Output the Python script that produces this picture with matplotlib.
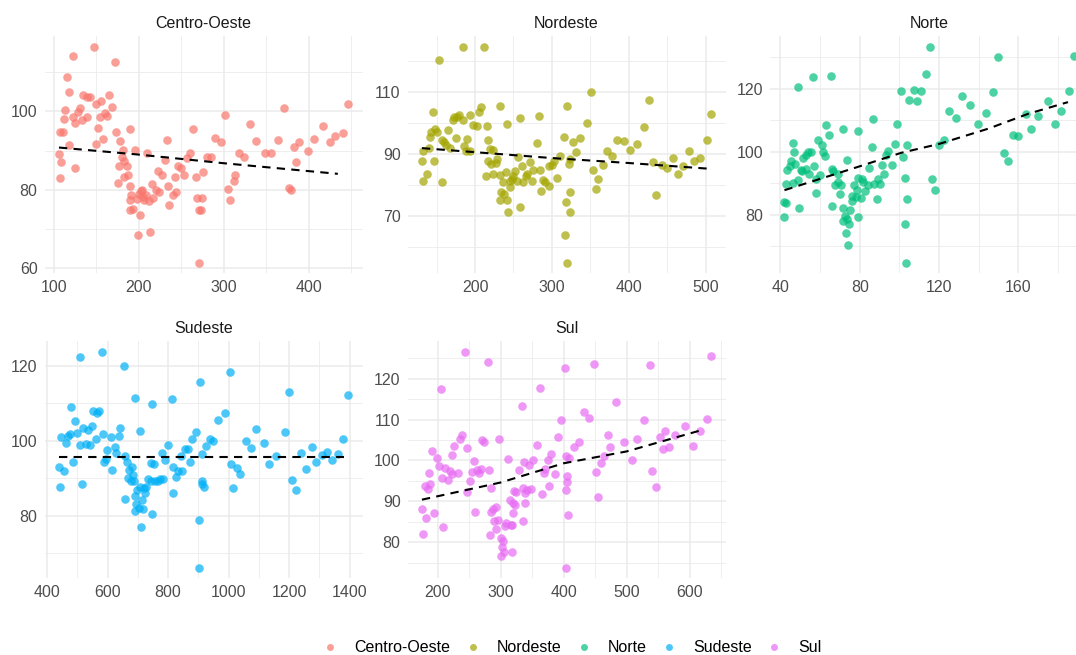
import numpy as np
import matplotlib
matplotlib.use("Agg")
import matplotlib.pyplot as plt
from matplotlib.lines import Line2D

plt.rcParams['font.family'] = ['Liberation Sans', 'DejaVu Sans']

# ---- data (x, y per region) ----
regions = ['Centro-Oeste', 'Nordeste', 'Norte', 'Sudeste', 'Sul']
colors = ['#F8766D', '#A3A500', '#00BF7D', '#00B0F6', '#E76BF3']

co_x = [123, 147, 172, 116, 118, 134, 139, 143, 149, 156, 165, 168, 113, 131, 128, 122, 112, 125, 133, 139,
        154, 160, 162, 107, 111, 152, 158, 173, 178, 118, 150, 106, 108, 107, 125, 189, 181, 180, 182, 177,
        186, 187, 183, 175, 190, 196, 210, 191, 190, 190, 193, 201, 199, 213, 203, 205, 208, 212, 215, 217,
        220, 224, 223, 227, 231, 233, 234, 236, 240, 244, 242, 246, 250, 253, 257, 260, 264, 267, 268, 271,
        273, 274, 275, 271, 280, 285, 290, 296, 301, 305, 307, 312, 313, 318, 324, 331, 338, 348, 355, 364,
        371, 376, 379, 383, 385, 388, 399, 406, 416, 425, 431, 440, 446, 200, 204, 206, 198]
co_y = [114.2, 116.4, 112.5, 108.9, 105, 104.2, 103.6, 103.8, 102, 102.7, 104.2, 101.1, 100.3, 100.8, 99.9, 98.6,
        98.1, 97, 97.7, 98.6, 98.6, 99.6, 98.9, 94.8, 94.8, 95.7, 93.1, 94.7, 92.4, 91.4, 91.8, 89.2, 87, 83,
        85.6, 95.6, 90.3, 88.5, 87.3, 86.2, 86.2, 83.9, 83.4, 81.7, 81.1, 90.1, 89.4, 78.8, 77.5, 74.9, 75.1,
        73.7, 68.6, 69.3, 79.6, 78.3, 78.8, 77.1, 81.5, 77.9, 80, 79.4, 84.7, 83.7, 87.7, 92.8, 80.9, 76.2,
        78.8, 79.4, 83.4, 86, 85.6, 83.9, 88.1, 89.4, 95.6, 83.4, 78, 74.9, 74.8, 78, 84.5, 61.5, 88.4, 88.5,
        93.3, 92.1, 99, 80.3, 77.5, 82.2, 83.9, 89.4, 88.5, 96.7, 92.4, 89.4, 89.4, 92.8, 100.8, 80.6, 80,
        90.9, 87, 92.2, 90, 93, 96.4, 92.2, 93.8, 94.6, 102, 79, 80, 77.5, 77.8]

ne_x = [184, 212, 153, 145, 131, 133, 133, 137, 140, 141, 143, 147, 148, 151, 157, 157, 160, 162, 165, 168,
        171, 173, 176, 175, 179, 184, 186, 188, 189, 193, 194, 198, 202, 205, 208, 214, 215, 217, 217, 220,
        223, 221, 224, 227, 228, 232, 233, 233, 234, 236, 238, 240, 241, 242, 243, 245, 246, 248, 250, 252,
        254, 256, 258, 259, 261, 263, 266, 268, 272, 274, 276, 281, 283, 285, 286, 289, 291, 296, 296, 300,
        303, 307, 310, 316, 318, 317, 320, 320, 322, 323, 323, 324, 328, 331, 337, 346, 351, 353, 357, 360,
        366, 372, 378, 385, 394, 402, 411, 420, 426, 432, 436, 443, 450, 458, 464, 471, 478, 485, 493, 502, 507]
ne_y = [124.4, 124.4, 120.2, 103.3, 87.8, 81.3, 90.8, 83.4, 91.8, 95.3, 96.9, 87.8, 98, 96.9, 80.9, 94.5, 93.7,
        92.7, 97.5, 91.8, 100.9, 102, 101.8, 95.1, 102.6, 100.9, 92.4, 90.8, 94.7, 102.6, 90.8, 99.4, 99, 103.3,
        105.1, 82.7, 98.8, 94.5, 87.8, 91.6, 91.1, 86.8, 83.5, 87.1, 88.3, 105.5, 83, 75.2, 77.8, 80.8, 76.9, 84,
        75.2, 99.7, 71.1, 79.4, 81.1, 81.8, 82.9, 84.3, 81.1, 89.1, 101.5, 72.8, 86, 80.8, 82.7, 83.3, 87.2,
        81.1, 84.9, 93.3, 102.3, 84.6, 78.1, 81.4, 80.8, 79.5, 86, 86.5, 87.7, 82.2, 89.4, 95.3, 74.4, 63.7,
        105.5, 54.9, 86.8, 77.6, 71.1, 88.3, 93.8, 90.4, 95, 99.9, 110, 84.8, 78.7, 81.8, 86.2, 90.8, 89.4, 94.3,
        94, 91.1, 93.2, 98.6, 107.2, 87.2, 76.8, 86.2, 85.4, 88.6, 83.5, 86, 90.8, 87.5, 88.6, 94.3, 102.9]

no_x = [42, 42, 43, 43, 43.5, 45, 45.5, 46.4, 46.7, 47.2, 46.2, 48.6, 49, 49.4, 50.3, 51.4, 51, 53, 53.1, 54,
        54.5, 55.3, 56.5, 57, 57.7, 57.7, 59, 59.9, 60.7, 61.5, 62.4, 63.2, 64.4, 65.3, 65.8, 66.1, 66.6, 67.4,
        68.8, 69.1, 69.9, 70.5, 71.3, 71.3, 71.6, 72.5, 73, 73.3, 73.7, 74.2, 74.5, 75, 75.9, 76.2, 77.2, 77.9,
        78.4, 78.9, 79.2, 79.2, 80.4, 80.9, 81.8, 82.6, 84, 84.6, 86, 86.8, 87.1, 88.5, 89, 90.2, 91, 92.4, 93,
        94.4, 96, 97.7, 99, 101, 101.6, 102.8, 102.8, 103.3, 103.6, 103.8, 105, 107.3, 108.7, 110.9, 113.2,
        115.4, 116.4, 118, 120, 122.3, 125.2, 128.5, 131.7, 135.6, 139.5, 143.5, 147, 149.9, 152.8, 154.5,
        157.2, 160, 163.7, 166.4, 170.1, 174.7, 178.2, 181.4, 185.3, 187.8]
no_y = [79.4, 84.1, 83.8, 89.8, 94.1, 95.4, 97.2, 102.9, 99.9, 96, 90.2, 120.5, 90.9, 82.2, 94.1, 98.1, 93.9, 99,
        94.4, 99.9, 92.8, 99.9, 123.8, 95.4, 91.2, 87, 103.9, 92.5, 102.1, 99.9, 98.8, 108.4, 105.5, 124, 94.4,
        82.8, 93.9, 89.3, 93.1, 90.5, 86.5, 89.3, 107.1, 82, 78, 79.6, 74.3, 78.5, 97.4, 70.3, 76.9, 81.5, 84.3,
        85.9, 89.6, 85.6, 88, 106.6, 79.4, 91.7, 85.2, 91.2, 90.4, 87.5, 89.3, 94.9, 101.5, 110.5, 89.9, 84.9,
        91.2, 89.9, 95.8, 92.8, 98.9, 100.3, 95.7, 102.5, 109, 119.3, 98.4, 91.7, 76.9, 64.8, 102.1, 84.9,
        116.6, 119.8, 116.1, 119.3, 124.8, 133.3, 91.2, 88, 102.1, 103.7, 113.1, 110.6, 117.9, 115, 108.7,
        112.2, 118.9, 130.2, 99.5, 97, 105.3, 105, 111.9, 107.1, 111.5, 116.1, 109, 112.9, 119.2, 130.6]

se_x = [439, 441, 446, 455, 463, 469, 474, 479, 485, 493, 499, 507, 509, 514, 518, 527, 535, 542, 548, 553,
        562, 564, 571, 582, 586, 589, 593, 597, 612, 615, 623, 628, 637, 642, 654, 656, 658, 664, 667, 670,
        676, 680, 683, 687, 690, 690, 692, 695, 698, 704, 706, 708, 711, 714, 716, 720, 724, 728, 733, 742,
        744, 747, 747, 753, 758, 766, 772, 779, 783, 790, 801, 812, 816, 816, 825, 833, 841, 847, 857, 866,
        873, 880, 891, 904, 902, 902, 912, 912, 913, 917, 924, 937, 948, 965, 987, 1003, 1007, 1014, 1028,
        1039, 1058, 1075, 1092, 1117, 1135, 1158, 1185, 1200, 1210, 1222, 1240, 1257, 1276, 1290, 1310,
        1326, 1343, 1362, 1378, 1395]
se_y = [93.1, 87.5, 100.9, 91.9, 99.5, 101.3, 101.8, 108.9, 94.4, 105.4, 102.1, 122.5, 98.9, 88.4, 103.5, 99.1,
        102.9, 98.8, 103.9, 107.9, 100.4, 107.3, 107.9, 123.7, 101.8, 94.2, 95, 97.4, 101.1, 92.2, 98.4, 96.8,
        101.3, 103.3, 120.1, 96, 84.4, 94.2, 90.1, 92.2, 89.3, 93.1, 90.9, 89.1, 111.5, 81.1, 85.2, 83.1, 86.8,
        81.9, 87.5, 102.7, 76.9, 84.2, 81.7, 87.3, 86, 87.7, 89.8, 94, 89.2, 109.8, 80.3, 93.7, 89.1, 89.3,
        89.9, 96.8, 89.7, 94.9, 98.9, 111.1, 86.1, 93.1, 90.4, 92, 95.8, 92, 97.7, 97.7, 94.2, 100.4, 102.4,
        115.8, 78.8, 66.1, 96.5, 89.3, 88.4, 87.6, 98.6, 100.4, 99.8, 105.6, 107.3, 118.5, 93.7, 87.3, 92.8,
        91, 99.8, 98, 103.1, 99.5, 93.8, 95.8, 102.2, 113.1, 89.5, 86.7, 96.6, 92.5, 98.4, 94.2, 96.2, 96.9,
        94.9, 96.4, 100.4, 112.2]

su_x = [175, 177, 180, 182, 185, 186, 188, 191, 194, 199, 202, 205, 207, 208, 212, 216, 219, 222, 223, 226,
        232, 235, 239, 244, 246, 247, 251, 254, 257, 259, 262, 265, 268, 271, 274, 280, 281, 283, 285, 285,
        288, 289, 292, 293, 295, 298, 300, 301, 302, 304, 306, 307, 308, 312, 314, 316, 318, 318, 320, 321,
        322, 319, 325, 329, 334, 335, 336, 337, 338, 338, 341, 345, 348, 352, 358, 363, 366, 369, 371, 375,
        376, 380, 386, 391, 395, 402, 403, 405, 403, 403, 406, 407, 409, 416, 424, 432, 441, 448, 451, 455,
        460, 464, 470, 473, 483, 496, 508, 516, 528, 537, 541, 546, 553, 558, 561, 568, 576, 593, 606, 616,
        627, 634]
su_y = [88.1, 82, 93.8, 85.9, 93, 96.9, 94.3, 102.4, 87.1, 100.6, 98.7, 117.5, 95.7, 83.8, 98.1, 95.3, 97.3,
        96.7, 101.4, 103.6, 96.9, 105.2, 106.3, 126.5, 103, 92.2, 94.9, 97.1, 99.8, 87.5, 97.6, 96.9, 97.9,
        104.9, 104.4, 124.1, 97.7, 81.8, 93.2, 87.3, 88.1, 85.2, 83.2, 88.7, 85.5, 105.2, 81, 76.7, 78.9, 80.4,
        77.7, 84, 84.7, 100.3, 90.2, 84.2, 84.2, 77.5, 89.6, 92.4, 89.2, 87.1, 92.2, 97.7, 113.2, 93.2, 85.1,
        99.5, 92, 89.7, 92.8, 98.9, 93, 100.2, 103.8, 117.7, 91.8, 96.9, 97.9, 100, 93.8, 101.6, 96.7, 105.7,
        110, 122.6, 101, 96.2, 92.8, 73.8, 94.6, 86.7, 100.6, 103.3, 104.4, 111.8, 110.4, 123.6, 97.1, 91,
        99.3, 101, 106.3, 103.3, 114.4, 104.4, 100.2, 105.2, 110, 123.3, 97.5, 93.4, 105.7, 102.8, 107.1,
        103.3, 106.3, 108.3, 103.6, 107.1, 110.2, 125.5]

# smoothed trend lines
co_trend_x = [106, 200, 300, 434]
co_trend_y = [90.8, 89.0, 86.8, 84.1]
ne_trend_x = [131, 200, 300, 400, 502]
ne_trend_y = [91.8, 90.5, 88.6, 87.0, 85.2]
no_trend_x = [42, 80, 101, 120, 145, 165, 185]
no_trend_y = [87.8, 95.4, 99.7, 102.5, 107.4, 112.1, 115.8]
se_trend_x = [439, 1380]
se_trend_y = [95.6, 95.6]
su_trend_x = [175, 300, 400, 500, 621]
su_trend_y = [90.4, 94.6, 99.3, 102.2, 107.5]

xs = [co_x, ne_x, no_x, se_x, su_x]
ys = [co_y, ne_y, no_y, se_y, su_y]
trends = [(co_trend_x, co_trend_y), (ne_trend_x, ne_trend_y), (no_trend_x, no_trend_y),
          (se_trend_x, se_trend_y), (su_trend_x, su_trend_y)]

# axis breaks per panel: (x major, x minor, y major, y minor)
breaks = [
    ([100, 200, 300, 400], [150, 250, 350, 450], [60, 80, 100], [70, 90, 110]),
    ([200, 300, 400, 500], [150, 250, 350, 450], [70, 90, 110], [60, 80, 100, 120]),
    ([40, 80, 120, 160], [60, 100, 140, 180], [80, 100, 120], [70, 90, 110, 130]),
    ([400, 600, 800, 1000, 1200, 1400], [500, 700, 900, 1100, 1300], [80, 100, 120], [70, 90, 110]),
    ([200, 300, 400, 500, 600], [250, 350, 450, 550, 650], [80, 90, 100, 110, 120], [75, 85, 95, 105, 115, 125]),
]

W, H = 1076, 655
fig = plt.figure(figsize=(W / 100, H / 100), dpi=100)

# panel rectangles in pixels (left, top, width, height)
lefts = [44.5, 407.5, 770]
tops = [36.3, 341.3]
pw, ph = 318, 237

grid_col = '#EBEBEB'
for i, reg in enumerate(regions):
    r, c = divmod(i, 3)
    l, t = lefts[c], tops[r]
    ax = fig.add_axes([l / W, 1 - (t + ph) / H, pw / W, ph / H])
    ax.set_axisbelow(True)
    ax.scatter(xs[i], ys[i], s=38, color=colors[i], alpha=0.7, linewidths=0, zorder=2)
    tx, ty = trends[i]
    ax.plot(tx, ty, color='black', linewidth=1.5, dashes=(4, 3), zorder=3)
    ax.margins(x=0.05, y=0.05)

    xmaj, xmin, ymaj, ymin = breaks[i]
    ax.set_xticks(xmaj)
    ax.set_xticks(xmin, minor=True)
    ax.set_yticks(ymaj)
    ax.set_yticks(ymin, minor=True)
    ax.grid(which='major', color=grid_col, linewidth=1.1)
    ax.grid(which='minor', color=grid_col, linewidth=0.6)
    ax.tick_params(which='both', length=0, labelsize=11.5, labelcolor='#4D4D4D', pad=5)
    for s in ax.spines.values():
        s.set_visible(False)
    ax.set_title(reg, fontsize=11.5, color='#1A1A1A', pad=6)

handles = [Line2D([], [], linestyle='none', marker='o', markersize=5, markerfacecolor=col,
                  markeredgewidth=0, alpha=0.7) for col in colors]
fig.legend(handles, regions, loc='center', bbox_to_anchor=(571 / W, 1 - 648 / H), ncol=5, frameon=False,
           fontsize=11.5, handletextpad=0.9, columnspacing=0.8, handlelength=1.2)

fig.savefig('out.png', dpi=100, facecolor='white')
